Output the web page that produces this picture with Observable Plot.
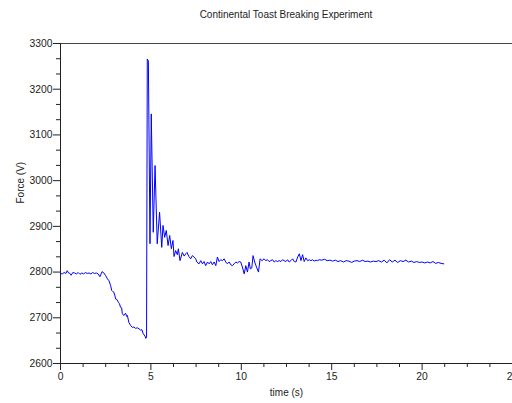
<!DOCTYPE html>
<html>
<head>
<meta charset="utf-8">
<script src="https://cdn.jsdelivr.net/npm/d3@7"></script>
<script src="https://cdn.jsdelivr.net/npm/@observablehq/plot@0.6"></script>
<style>
  body { margin: 0; background: #fff; font-family: "Liberation Sans", Arial, sans-serif; }
  #title { height: 30px; line-height: 30px; width: 512px; text-align: center; font-size: 10px; color: #222; padding-left: 60px; box-sizing: border-box; padding-right: 0; }
</style>
</head>
<body>
<div id="title">Continental Toast Breaking Experiment</div>
<div id="chart"></div>
<script>
const time = [
  0, 0.1, 0.2, 0.3, 0.37, 0.45, 0.52, 0.59, 0.68, 0.78, 0.88, 0.98, 1.08, 1.18, 1.28, 1.38, 1.48, 1.58, 1.68, 1.78,
  1.88, 1.98, 2.08, 2.18, 2.3, 2.4, 2.5, 2.6, 2.68, 2.77, 2.83, 2.9, 2.95, 3.0, 3.05, 3.12, 3.2, 3.26, 3.32, 3.38,
  3.42, 3.5, 3.6, 3.66, 3.7, 3.78, 3.88, 3.97, 4.06, 4.15, 4.25, 4.34, 4.43, 4.5, 4.58, 4.67, 4.72, 4.76,
  4.80, 4.86, 4.95, 5.02, 5.13, 5.23, 5.35, 5.48, 5.6, 5.67, 5.76, 5.85, 5.95, 6.04, 6.13, 6.22, 6.28, 6.37, 6.46, 6.52,
  6.61, 6.74, 6.84, 6.93, 7.0, 7.1, 7.2, 7.29, 7.38, 7.48, 7.54, 7.66, 7.76, 7.85, 7.94, 8.03, 8.13, 8.22, 8.31, 8.4,
  8.5, 8.59, 8.68, 8.77, 8.86, 8.96, 9.05, 9.14, 9.23, 9.33, 9.42, 9.51, 9.6, 9.7, 9.79, 9.88, 9.97, 10.06, 10.16, 10.25,
  10.34, 10.43, 10.5, 10.58, 10.65, 10.74, 10.84, 10.95, 11.04, 11.15, 11.26, 11.35, 11.45, 11.54, 11.63, 11.73, 11.82, 11.91, 12.0, 12.1,
  12.19, 12.28, 12.37, 12.47, 12.56, 12.65, 12.74, 12.84, 12.93, 13.02, 13.12, 13.21, 13.3, 13.39, 13.48, 13.57, 13.67, 13.76, 13.85, 13.94,
  14.03, 14.13, 14.22, 14.3, 14.45, 14.6, 14.75, 14.9, 15.05, 15.2, 15.35, 15.5, 15.65, 15.8, 15.95, 16.1, 16.25, 16.4, 16.55, 16.7,
  16.85, 17.0, 17.15, 17.3, 17.45, 17.6, 17.75, 17.9, 18.05, 18.2, 18.35, 18.5, 18.65, 18.8, 18.95, 19.1, 19.25, 19.4, 19.55, 19.7,
  19.85, 20.0, 20.15, 20.3, 20.45, 20.6, 20.75, 20.9, 21.05, 21.2
];
const force = [
  2797, 2796, 2799, 2797, 2803, 2798, 2797, 2793, 2799, 2798, 2796, 2799, 2795, 2798, 2796, 2799, 2797, 2798, 2796, 2799,
  2797, 2798, 2796, 2790, 2801, 2798, 2792, 2785, 2781, 2771, 2760, 2757, 2756, 2750, 2741, 2740, 2734, 2731, 2723, 2722,
  2709, 2705, 2710, 2703, 2705, 2690, 2683, 2679, 2680, 2677, 2678, 2676, 2673, 2674, 2665, 2660, 2655, 2658,
  3266, 3262, 2862, 3146, 2887, 3033, 2862, 2931, 2854, 2902, 2876, 2891, 2858, 2880, 2851, 2869, 2834, 2847, 2838, 2851,
  2825, 2843, 2835, 2840, 2843, 2834, 2829, 2836, 2833, 2829, 2822, 2818, 2825, 2818, 2823, 2814, 2822, 2818, 2823, 2816,
  2822, 2814, 2833, 2823, 2827, 2825, 2829, 2822, 2818, 2822, 2816, 2814, 2818, 2822, 2820, 2823, 2822, 2811, 2796, 2814,
  2800, 2822, 2807, 2809, 2836, 2822, 2811, 2800, 2829, 2825, 2829, 2825, 2827, 2823, 2825, 2827, 2822, 2825, 2823, 2825,
  2823, 2827, 2825, 2823, 2827, 2822, 2825, 2829, 2823, 2822, 2833, 2840, 2825, 2838, 2823, 2831, 2825, 2827, 2825, 2827,
  2824, 2826, 2825, 2827, 2826, 2828, 2825, 2826, 2824, 2826, 2823, 2825, 2822, 2825, 2824, 2821, 2824, 2825, 2823, 2826,
  2823, 2824, 2822, 2824, 2823, 2825, 2822, 2826, 2820, 2827, 2822, 2826, 2821, 2825, 2823, 2826, 2822, 2824, 2821, 2823,
  2821, 2822, 2820, 2822, 2820, 2823, 2819, 2821, 2819, 2818
];
const xTicks = [0, 5, 10, 15, 20, 25];
const xMinor = d3.range(0, 25.001, 1.25).filter(v => v % 5 !== 0);
const yTicks = [2600, 2700, 2800, 2900, 3000, 3100, 3200, 3300];
const yMinor = d3.range(0, 21).map(i => 2600 + i * 100 / 3).filter((v, i) => i % 3 !== 0);

const data = time.map((t, i) => ({t, f: force[i]}));

const chart = Plot.plot({
  width: 512,
  height: 373,
  marginTop: 13,
  marginBottom: 40,
  marginLeft: 60,
  marginRight: 0,
  style: {fontFamily: "Liberation Sans, Arial, sans-serif", fontSize: "10px", color: "#222", background: "#fff"},
  x: {domain: [0, 25]},
  y: {domain: [2600, 3300]},
  marks: [
    Plot.ruleY([3300], {stroke: "#444"}),
    Plot.ruleY([2600], {stroke: "#222"}),
    Plot.ruleX([0], {stroke: "#222"}),
    Plot.axisX({ticks: xMinor, tickSize: 4, text: null, stroke: "#222", label: null}),
    Plot.axisX({ticks: xTicks, tickSize: 7, tickPadding: 2, tickFormat: d3.format("d"), stroke: "#222", fontSize: 10.3, label: null}),
    Plot.axisY({ticks: yMinor, tickSize: 4, text: null, stroke: "#222", label: null}),
    Plot.axisY({ticks: yTicks, tickSize: 7, tickPadding: 1, tickFormat: d3.format("d"), stroke: "#222", fontSize: 10.3, label: null}),
    Plot.text(["time (s)"], {frameAnchor: "bottom", dy: 32, fontSize: 10, fill: "#222"}),
    Plot.text(["Force (V)"], {frameAnchor: "left", dx: -40, rotate: -90, fontSize: 10, fill: "#222"}),
    Plot.line(data, {x: "t", y: "f", stroke: "#0000ff", strokeWidth: 1})
  ]
});
document.getElementById("chart").appendChild(chart);
</script>
</body>
</html>
